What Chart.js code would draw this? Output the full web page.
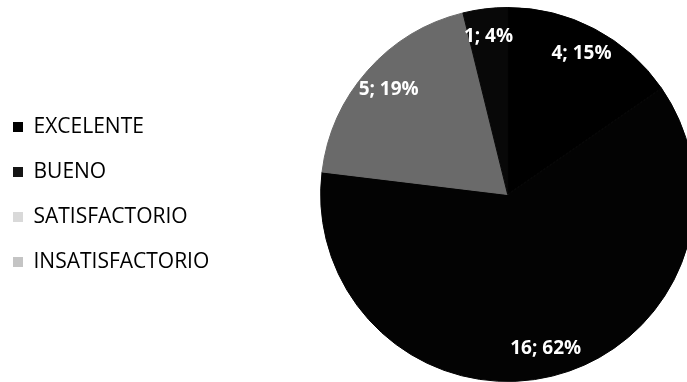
<!DOCTYPE html>
<html>
<head>
<meta charset="utf-8">
<script src="https://cdn.jsdelivr.net/npm/chart.js@4"></script>
<style>
  html, body { margin: 0; padding: 0; background: #fff; overflow: hidden; width: 687px; height: 382px; }
  #wrap { position: relative; width: 807px; height: 382px; margin-left: -11px; }
</style>
</head>
<body>
<div id="wrap"><canvas id="pieChart"></canvas></div>
<script>
// --- DATA ---
const categories = ['EXCELENTE', 'BUENO', 'SATISFACTORIO', 'INSATISFACTORIO'];
const counts = [4, 16, 5, 1];

// --- COLOURS ---
const sliceColors = ['#000000', '#030303', '#6a6a6a', '#080808'];
const legendColors = ['#000000', '#151515', '#d9d9d9', '#c4c4c4'];

// --- LABELS ON SLICES ---
const sliceLabels = {
    id: 'sliceLabels',
    afterDatasetsDraw(chart) {
        const ctx = chart.ctx;
        const meta = chart.getDatasetMeta(0);
        const total = counts.reduce((a, b) => a + b, 0);
        ctx.save();
        ctx.font = 'bold 19px "Open Sans", sans-serif';
        ctx.fillStyle = '#ffffff';
        ctx.textAlign = 'center';
        ctx.textBaseline = 'middle';
        meta.data.forEach((arc, i) => {
            const mid = (arc.startAngle + arc.endAngle) / 2;
            const r = arc.outerRadius * 0.85;
            const x = arc.x + Math.cos(mid) * r;
            const y = arc.y + Math.sin(mid) * r;
            const pct = Math.round(counts[i] / total * 100);
            ctx.fillText(counts[i] + '; ' + pct + '%', x, y);
        });
        ctx.restore();
    }
};

new Chart(document.getElementById('pieChart').getContext('2d'), {
    type: 'pie',
    data: {
        labels: categories,
        datasets: [{
            data: counts,
            backgroundColor: sliceColors,
            borderColor: sliceColors,
            borderWidth: 1
        }]
    },
    options: {
        responsive: true,
        maintainAspectRatio: false,
        animation: false,
        layout: { padding: { top: 7, bottom: 0, left: 0, right: 0 } },
        plugins: {
            tooltip: { enabled: false },
            legend: {
                position: 'left',
                labels: {
                    boxWidth: 10,
                    boxHeight: 10,
                    padding: 24,
                    color: '#000',
                    font: { family: '"Open Sans", sans-serif', size: 21 },
                    generateLabels: () => categories.map((c, i) => ({
                        text: c,
                        fillStyle: legendColors[i],
                        strokeStyle: legendColors[i],
                        lineWidth: 0,
                        index: i
                    }))
                }
            }
        }
    },
    plugins: [sliceLabels]
});
</script>
</body>
</html>
